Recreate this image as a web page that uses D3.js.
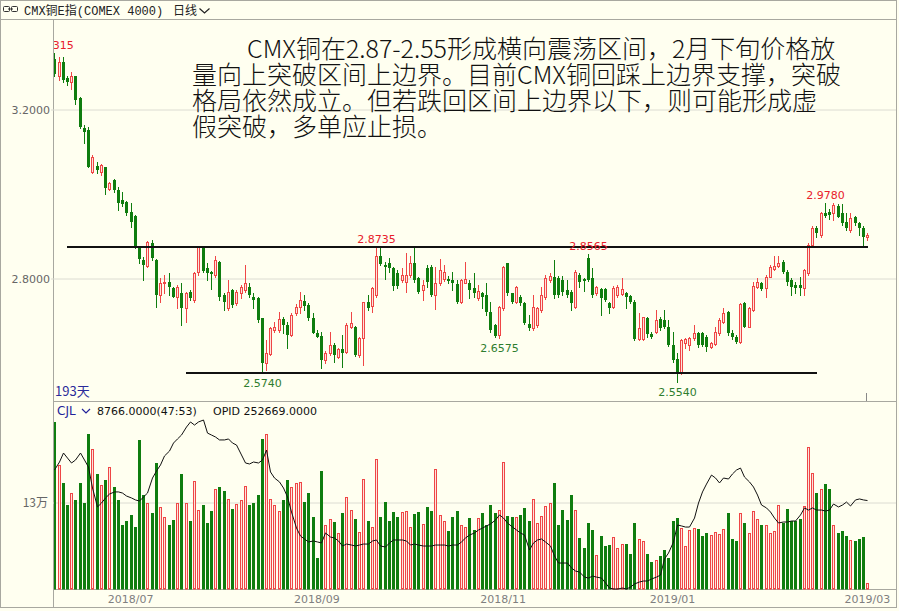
<!DOCTYPE html>
<html>
<head>
<meta charset="utf-8">
<script src="https://cdn.jsdelivr.net/npm/d3@7"></script>
<style>
  html, body { margin: 0; padding: 0; background: #fffff0; }
  svg { display: block; }
</style>
</head>
<body>
<svg id="chart" width="899" height="611"></svg>
<script>
// ---- daily bars, COMEX copper index (193 sessions) ----
const opens = [
  3.318,3.277,3.312,3.273,3.265,3.277,3.225,3.154,3.150,3.052,
  3.065,3.052,3.062,3.010,3.032,3.008,2.985,2.981,2.957,2.947,
  2.870,2.843,2.828,2.884,2.843,2.760,2.787,2.791,2.777,2.756,
  2.764,2.728,2.768,2.748,2.815,2.874,2.823,2.815,2.807,2.839,
  2.760,2.728,2.772,2.740,2.764,2.772,2.779,2.756,2.752,
  2.705,2.598,2.620,2.677,2.678,2.703,2.689,2.665,2.716,2.732,
  2.746,2.736,2.705,2.671,2.663,2.606,2.622,2.641,2.614,2.631,
  2.626,2.684,2.684,2.618,2.657,2.744,2.734,2.760,2.851,2.831,
  2.835,2.823,2.813,2.795,2.791,2.807,2.835,2.799,2.772,2.823,
  2.827,2.760,2.787,2.797,2.797,2.795,2.786,
  2.744,2.789,2.789,2.776,2.752,2.765,2.760,2.720,2.689,2.665,
  2.728,2.835,2.764,2.744,2.756,2.742,2.691,2.681,2.689,2.724,
  2.756,2.795,2.803,2.801,2.795,2.772,2.768,2.732,2.807,2.797,
  2.847,2.799,2.764,2.773,2.773,2.740,2.732,2.760,2.762,2.765,
  2.757,2.744,2.655,2.655,2.705,2.667,2.673,
  2.703,2.701,2.685,2.641,2.608,2.574,2.645,2.641,2.657,2.671,
  2.669,2.661,2.636,2.644,2.669,2.697,2.720,2.671,2.661,2.649,
  2.742,2.685,2.724,2.778,2.787,2.776,2.803,2.821,2.828,2.839,
  2.815,2.795,2.783,2.783,2.776,2.811,2.878,2.918,2.902,2.955,
  2.957,2.953,2.970,2.953,2.933,2.914,2.944,2.929,2.918,2.896
];
const highs = [
  3.3315,3.322,3.324,3.277,3.288,3.279,3.229,3.162,3.158,3.091,
  3.075,3.071,3.063,3.028,3.034,3.016,3.004,2.983,2.977,2.949,
  2.874,2.850,2.888,2.890,2.844,2.799,2.807,2.811,2.779,2.783,
  2.787,2.768,2.772,2.815,2.874,2.876,2.835,2.817,2.852,2.840,
  2.764,2.795,2.775,2.772,2.783,2.831,2.787,2.764,2.756,
  2.706,2.653,2.685,2.697,2.720,2.708,2.697,2.716,2.738,2.768,
  2.760,2.740,2.716,2.677,2.673,2.627,2.673,2.645,2.634,2.665,
  2.693,2.720,2.686,2.661,2.744,2.760,2.779,2.8735,2.870,2.839,
  2.847,2.827,2.819,2.823,2.858,2.851,2.870,2.803,2.795,2.831,
  2.831,2.827,2.844,2.830,2.805,2.815,2.795,
  2.797,2.839,2.795,2.811,2.783,2.768,2.789,2.744,2.691,2.734,
  2.828,2.836,2.765,2.781,2.760,2.744,2.712,2.760,2.732,2.779,
  2.807,2.813,2.843,2.805,2.805,2.795,2.772,2.819,2.811,2.799,
  2.8565,2.823,2.781,2.776,2.776,2.744,2.781,2.783,2.799,2.768,
  2.760,2.748,2.716,2.708,2.708,2.673,2.724,
  2.708,2.724,2.701,2.673,2.622,2.655,2.657,2.661,2.689,2.673,
  2.673,2.665,2.649,2.685,2.705,2.728,2.723,2.677,2.665,2.740,
  2.744,2.732,2.791,2.799,2.791,2.807,2.831,2.852,2.852,2.843,
  2.819,2.799,2.791,2.803,2.821,2.882,2.922,2.922,2.957,2.978,
  2.963,2.977,2.975,2.976,2.953,2.953,2.947,2.933,2.922,2.907
];
const lows = [
  3.277,3.269,3.265,3.257,3.247,3.213,3.154,3.119,3.062,3.048,
  3.048,3.044,3.000,3.008,3.004,2.961,2.970,2.949,2.921,2.870,
  2.835,2.795,2.827,2.843,2.732,2.744,2.764,2.760,2.754,2.728,
  2.689,2.697,2.748,2.744,2.807,2.815,2.795,2.775,2.803,2.748,
  2.724,2.724,2.732,2.736,2.752,2.768,2.756,2.728,2.697,
  2.574,2.582,2.618,2.673,2.673,2.669,2.634,2.663,2.712,2.716,
  2.724,2.701,2.669,2.660,2.586,2.598,2.618,2.602,2.610,2.590,
  2.622,2.681,2.615,2.614,2.594,2.724,2.720,2.756,2.831,2.797,
  2.815,2.772,2.776,2.791,2.768,2.803,2.791,2.765,2.748,2.779,
  2.757,2.726,2.783,2.793,2.789,2.772,2.740,
  2.742,2.787,2.752,2.756,2.748,2.728,2.712,2.673,2.661,2.6575,
  2.724,2.760,2.740,2.740,2.736,2.691,2.678,2.677,2.685,2.720,
  2.750,2.791,2.752,2.756,2.760,2.756,2.724,2.730,2.779,2.770,
  2.794,2.756,2.760,2.712,2.746,2.716,2.728,2.756,2.760,2.728,
  2.740,2.653,2.653,2.653,2.661,2.657,2.669,
  2.677,2.681,2.639,2.602,2.554,2.573,2.634,2.630,2.653,2.637,
  2.639,2.628,2.634,2.641,2.665,2.693,2.665,2.655,2.645,2.647,
  2.683,2.683,2.723,2.776,2.772,2.754,2.802,2.819,2.825,2.813,
  2.783,2.760,2.764,2.760,2.760,2.807,2.874,2.898,2.898,2.944,
  2.939,2.937,2.944,2.925,2.914,2.910,2.925,2.902,2.878,2.890
];
const closes = [
  3.284,3.312,3.269,3.265,3.277,3.221,3.158,3.146,3.063,3.087,
  3.056,3.067,3.012,3.026,3.008,2.977,2.975,2.955,2.933,2.874,
  2.844,2.831,2.886,2.847,2.760,2.787,2.791,2.779,2.756,2.779,
  2.728,2.764,2.752,2.811,2.874,2.817,2.811,2.809,2.843,2.756,
  2.744,2.768,2.736,2.768,2.779,2.787,2.760,2.748,2.701,
  2.598,2.622,2.681,2.685,2.702,2.689,2.665,2.712,2.732,2.748,
  2.734,2.705,2.669,2.661,2.606,2.623,2.641,2.618,2.631,2.622,
  2.689,2.693,2.618,2.657,2.744,2.728,2.776,2.851,2.833,2.827,
  2.823,2.781,2.781,2.807,2.807,2.835,2.795,2.768,2.783,2.791,
  2.760,2.789,2.820,2.815,2.794,2.787,2.744,
  2.795,2.797,2.772,2.764,2.770,2.756,2.720,2.677,2.663,2.732,
  2.827,2.764,2.744,2.778,2.740,2.693,2.681,2.732,2.728,2.760,
  2.799,2.805,2.760,2.760,2.768,2.760,2.740,2.815,2.791,2.794,
  2.795,2.760,2.778,2.752,2.748,2.728,2.776,2.778,2.773,2.756,
  2.744,2.655,2.681,2.707,2.667,2.661,2.701,
  2.681,2.685,2.641,2.606,2.574,2.653,2.655,2.657,2.669,2.641,
  2.641,2.637,2.647,2.673,2.701,2.716,2.669,2.660,2.649,2.738,
  2.685,2.728,2.781,2.791,2.773,2.803,2.825,2.828,2.836,2.815,
  2.791,2.778,2.776,2.776,2.819,2.878,2.918,2.906,2.953,2.947,
  2.949,2.973,2.945,2.929,2.918,2.941,2.929,2.918,2.898,2.902
];
// traded volume (CJL), in units of 10,000 lots
const volumes = [
  25.0,18.6,15.9,12.5,14.3,13.3,15.9,12.9,23.2,20.9,
  17.2,15.5,16.3,18.3,15.3,13.3,9.6,10.2,11.1,9.3,
  22.2,14.0,12.9,11.3,18.9,12.2,10.7,9.6,10.3,12.9,
  17.2,12.9,10.2,16.1,11.8,12.5,9.8,11.6,14.9,15.2,
  14.6,13.4,12.0,12.7,13.3,15.4,12.5,12.9,14.1,22.4,
  23.1,13.4,12.5,11.6,13.3,16.3,15.2,15.8,16.0,13.0,
  14.3,10.8,4.6,17.6,9.6,10.4,10.0,8.3,11.3,13.8,
  11.8,10.4,8.5,16.4,10.2,9.3,19.4,10.7,13.0,10.2,
  11.5,10.8,11.5,11.7,9.2,11.2,11.5,9.7,12.3,11.7,
  17.9,11.1,10.2,8.6,10.7,11.6,9.6,9.2,10.6,8.8,
  10.6,11.3,9.5,12.5,11.3,11.8,19.0,10.9,10.8,10.7,
  11.0,12.1,10.2,13.4,9.9,10.9,12.4,12.9,15.9,9.6,
  11.8,10.3,14.1,11.8,7.6,6.1,9.8,8.8,5.1,7.9,
  6.5,6.6,7.7,6.1,6.7,6.7,5.3,9.8,7.5,7.2,
  5.3,4.1,4.3,4.9,5.8,4.7,10.2,10.6,9.1,6.5,
  8.8,9.1,9.0,7.9,8.4,8.1,8.5,8.2,9.0,11.3,
  7.5,7.1,11.3,9.8,8.4,11.7,10.4,9.6,9.6,8.3,
  8.6,12.6,9.8,11.9,10.1,10.2,10.4,12.4,21.2,17.4,
  14.3,14.9,15.7,15.0,9.6,8.3,8.7,7.9,7.3,7.1,
  7.5,7.8,0.8766
];
// open interest (OPID), in thousands of lots
const openInterest = [
  274.4,280.1,286.5,282.9,279.4,281.5,286.5,281.5,276.5,261.6,
  248.1,250.9,254.5,257.3,258.8,258.8,258.0,255.9,254.5,253.1,
  252.3,255.2,258.0,268.7,273.7,278.0,284.4,287.9,293.6,296.5,
  299.3,305.0,308.6,306.4,308.6,310.0,300.7,299.3,297.9,295.8,
  295.8,296.5,293.6,292.2,285.1,279.4,278.7,280.1,279.4,281.5,
  288.6,273.0,268.7,265.9,261.6,255.2,244.5,233.1,227.4,225.3,
  223.2,223.9,223.2,222.5,229.6,226.7,226.0,223.9,220.3,221.7,
  221.0,220.3,221.0,221.7,221.7,223.9,224.6,220.3,219.6,222.5,
  224.6,224.6,224.6,223.9,221.0,221.7,221.0,220.3,220.3,220.3,
  221.0,221.0,221.0,220.3,221.0,221.0,223.2,226.0,228.1,229.6,
  231.7,233.1,234.6,236.0,238.8,242.4,240.2,236.7,233.8,231.7,
  229.6,228.1,217.5,222.5,224.6,225.3,223.2,220.3,213.2,208.2,
  208.2,208.2,204.7,202.5,201.8,198.2,197.5,198.9,198.2,197.5,
  194.0,190.4,189.7,189.7,190.4,189.7,191.1,193.3,194.7,195.4,
  195.4,196.8,198.2,199.6,211.1,215.3,223.2,235.3,234.6,233.8,
  233.8,240.2,250.9,258.8,264.4,270.8,268.7,265.2,268.7,268.0,
  271.6,274.4,275.8,269.4,265.9,262.3,256.6,249.5,247.4,244.5,
  240.2,236.7,237.4,237.4,238.1,238.1,242.4,247.4,245.9,247.4,
  245.9,245.9,245.2,245.9,250.2,248.1,249.5,251.6,248.8,253.1,
  253.8,253.1,252.669
];
// month labels and the session they sit on
const monthLabels = ['2018/07', '2018/09', '2018/11', '2019/01', '2019/03'];
const monthDays   = [18, 62, 106, 146, 192];
// price gridlines, volume gridline
const priceTicks = [2.8, 3.2];
const volumeTicks = [13];
// marked swing highs / lows (session index)
const swingHighDays = [0, 76, 126, 182];
const swingLowDays  = [49, 105, 147];
// drawn range boundaries: price level, first and last session
const levelPrices = [2.8735, 2.574];
const levelFrom   = [3, 31];
const levelTo     = [192, 180];
// commentary
const noteLines = [
  'CMX铜在2.87-2.55形成横向震荡区间，2月下旬价格放',
  '量向上突破区间上边界。目前CMX铜回踩上边界支撑，突破',
  '格局依然成立。但若跌回区间上边界以下，则可能形成虚',
  '假突破，多单应止损。'
];

// ---------------------------------------------------------------
const W = 899, H = 611;
const bg = '#fffff0';
const upColor = '#ef4646', upFill = '#fde4dc', downColor = '#0f7d0f';
const frameColor = '#a8a8a0', gridColor = '#dcdcd2';
const axisFont = 'DejaVu Sans, Verdana, sans-serif';
const cjkFont = '"Noto Sans CJK SC", "Noto Sans", sans-serif';
const plotL = 53, plotR = 896;
const priceTop = 20, priceBottom = 401;
const volTop = 402, volBottom = 589;

const svg = d3.select('#chart');
svg.append('rect').attr('width', W).attr('height', H).attr('fill', bg);

const n = opens.length;
const days = d3.range(n);
const bars = days.map(i => ({
  i, o: opens[i], h: highs[i], l: lows[i], c: closes[i],
  v: volumes[i], oi: openInterest[i], up: closes[i] >= opens[i]
}));

const x = d3.scaleBand().domain(days).range([52.2, 869.4]).paddingInner(0.3).paddingOuter(0.15);
const cx = i => Math.round(x(i) + x.bandwidth() / 2);
const yP = d3.scaleLinear().domain([2.8, 3.2]).range([278, 109]);
const yV = d3.scaleLinear().domain([0, 13]).range([volBottom, 502]);
const yO = d3.scaleLinear().domain([190, 310]).range([588.6, 420]);

const defs = svg.append('defs');
defs.append('clipPath').attr('id', 'clipPrice').append('rect')
  .attr('x', plotL + 1).attr('y', priceTop).attr('width', plotR - plotL - 1).attr('height', priceBottom - priceTop);
defs.append('clipPath').attr('id', 'clipVol').append('rect')
  .attr('x', plotL + 1).attr('y', volTop).attr('width', plotR - plotL - 1).attr('height', volBottom - volTop + 1);

// ---- header bar ----
const header = svg.append('g');
header.append('rect').attr('x', 3.5).attr('y', 6.5).attr('width', 6).attr('height', 5).attr('rx', 1)
  .attr('fill', 'none').attr('stroke', '#333');
header.append('rect').attr('x', 11.5).attr('y', 6.5).attr('width', 6).attr('height', 5).attr('rx', 1)
  .attr('fill', 'none').attr('stroke', '#333');
header.append('line').attr('x1', 8).attr('x2', 13).attr('y1', 9).attr('y2', 9).attr('stroke', '#333');
header.append('text').attr('x', 24).attr('y', 14.5)
  .attr('font-family', '"Liberation Mono", "Noto Sans CJK SC", monospace').attr('font-size', 12)
  .attr('fill', '#222').text('CMX铜E指(COMEX 4000)');
header.append('text').attr('x', 173).attr('y', 14.5)
  .attr('font-family', cjkFont).attr('font-size', 12).attr('fill', '#222').text('日线');
header.append('path').attr('d', 'M199.5,8.5 L204.5,13 L209.5,8.5').attr('fill', 'none').attr('stroke', '#222').attr('stroke-width', 1.2);

// ---- frame ----
const frame = svg.append('g').attr('stroke', frameColor).attr('fill', 'none');
frame.append('rect').attr('x', 0.5).attr('y', 0.5).attr('width', 896).attr('height', 607);
frame.append('line').attr('x1', 0).attr('x2', plotR + 1).attr('y1', 19.5).attr('y2', 19.5);
frame.append('line').attr('x1', plotL + 0.5).attr('x2', plotL + 0.5).attr('y1', 20).attr('y2', 607);
frame.append('line').attr('x1', plotL).attr('x2', plotR + 1).attr('y1', priceBottom + 0.5).attr('y2', priceBottom + 0.5);
frame.append('line').attr('x1', plotL).attr('x2', plotR + 1).attr('y1', volBottom + 0.5).attr('y2', volBottom + 0.5);

// ---- price axis with gridlines ----
const priceAxis = svg.append('g').attr('transform', `translate(${plotL},0.5)`)
  .call(d3.axisLeft(yP).tickValues(priceTicks).tickFormat(d3.format('.4f'))
    .tickSize(-(plotR - plotL)).tickPadding(3));
priceAxis.select('.domain').remove();
priceAxis.selectAll('.tick line').attr('stroke', gridColor).attr('x1', -2);
priceAxis.selectAll('.tick text').attr('font-family', axisFont).attr('font-size', 11).attr('fill', '#666');

// ---- volume axis ----
const volAxis = svg.append('g').attr('transform', `translate(${plotL},0.5)`)
  .call(d3.axisLeft(yV).tickValues(volumeTicks).tickFormat(d => d + '万')
    .tickSize(-(plotR - plotL)).tickPadding(5));
volAxis.select('.domain').remove();
volAxis.selectAll('.tick line').attr('stroke', gridColor);
volAxis.selectAll('.tick text').attr('font-family', cjkFont).attr('font-size', 12).attr('fill', '#666');

// ---- date axis ----
const dateAxis = svg.append('g').attr('transform', `translate(0,${volBottom + 1})`)
  .call(d3.axisBottom(x).tickValues(monthDays)
    .tickFormat(d => monthLabels[monthDays.indexOf(d)]).tickSize(0).tickPadding(5));
dateAxis.select('.domain').remove();
dateAxis.selectAll('.tick text').attr('font-family', axisFont).attr('font-size', 11).attr('fill', '#808080');

// ---- candles ----
const pricePlot = svg.append('g').attr('clip-path', 'url(#clipPrice)');
pricePlot.selectAll('line.wick').data(bars).join('line').attr('class', 'wick')
  .attr('x1', d => cx(d.i) + 0.5).attr('x2', d => cx(d.i) + 0.5)
  .attr('y1', d => Math.round(yP(d.h))).attr('y2', d => Math.round(yP(d.l)) + 1)
  .attr('stroke', d => d.up ? upColor : downColor);
pricePlot.selectAll('rect.body').data(bars).join('rect').attr('class', 'body')
  .each(function(d) {
    const top = Math.round(yP(Math.max(d.o, d.c)));
    const bot = Math.round(yP(Math.min(d.o, d.c)));
    const s = d3.select(this);
    if (d.up) {
      s.attr('x', cx(d.i) - 0.5).attr('width', 2)
       .attr('y', top + 0.5).attr('height', Math.max(bot - top, 1))
       .attr('fill', upFill).attr('stroke', upColor);
    } else {
      s.attr('x', cx(d.i) - 1).attr('width', 3)
       .attr('y', top).attr('height', Math.max(bot - top, 1))
       .attr('fill', downColor);
    }
  });

// ---- range boundaries ----
pricePlot.selectAll('line.level').data(levelPrices).join('line').attr('class', 'level')
  .attr('x1', (p, k) => cx(levelFrom[k])).attr('x2', (p, k) => cx(levelTo[k]) + 1)
  .attr('y1', p => Math.round(yP(p))).attr('y2', p => Math.round(yP(p)))
  .attr('stroke', '#111').attr('stroke-width', 2);

// ---- swing labels ----
const fmt4 = d3.format('.4f');
pricePlot.selectAll('text.hi').data(swingHighDays).join('text').attr('class', 'hi')
  .attr('x', i => cx(i) + 0.5).attr('y', i => yP(highs[i]) - 4)
  .attr('text-anchor', 'middle').attr('font-family', axisFont).attr('font-size', 11)
  .attr('fill', '#e8202a').text(i => fmt4(highs[i]));
pricePlot.selectAll('text.lo').data(swingLowDays).join('text').attr('class', 'lo')
  .attr('x', i => cx(i) + 0.5).attr('y', i => yP(lows[i]) + 14)
  .attr('text-anchor', 'middle').attr('font-family', axisFont).attr('font-size', 11)
  .attr('fill', '#2e7d2e').text(i => fmt4(lows[i]));

// session count and last-bar marker
svg.append('text').attr('x', 55).attr('y', 396).attr('font-family', cjkFont).attr('font-size', 13)
  .attr('fill', '#2a2a9a').text(`${n}天`);
svg.append('line').attr('x1', cx(n - 1) - 0.5).attr('x2', cx(n - 1) - 0.5)
  .attr('y1', 393).attr('y2', priceBottom).attr('stroke', '#888');

// ---- commentary ----
const noteX = [247, 192, 192, 192];
const noteY = [58, 84, 110, 136];
svg.append('g').selectAll('text').data(noteLines).join('text')
  .attr('x', (t, k) => noteX[k]).attr('y', (t, k) => noteY[k])
  .attr('font-family', cjkFont).attr('font-size', 25).attr('font-weight', 300)
  .attr('fill', '#111').text(t => t);

// ---- volume bars ----
const volPlot = svg.append('g').attr('clip-path', 'url(#clipVol)');
volPlot.selectAll('rect.vol').data(bars).join('rect').attr('class', 'vol')
  .each(function(d) {
    const top = Math.round(yV(d.v));
    const s = d3.select(this);
    if (d.up) {
      s.attr('x', cx(d.i) - 0.5).attr('width', 2)
       .attr('y', top + 0.5).attr('height', Math.max(volBottom - top - 0.5, 0.5))
       .attr('fill', upFill).attr('stroke', upColor);
    } else {
      s.attr('x', cx(d.i) - 1).attr('width', 3)
       .attr('y', top).attr('height', volBottom - top + 0.5)
       .attr('fill', downColor);
    }
  });

// ---- open interest line ----
volPlot.append('path').datum(bars)
  .attr('d', d3.line().x(d => cx(d.i) + 0.5).y(d => yO(d.oi)))
  .attr('fill', 'none').attr('stroke', '#111').attr('stroke-width', 1);

// ---- volume legend ----
const legend = svg.append('g').attr('font-family', axisFont).attr('font-size', 11);
legend.append('text').attr('x', 57).attr('y', 414.5).attr('fill', '#22229a').attr('font-size', 12).text('CJL');
legend.append('path').attr('d', 'M82,409 L86,413 L90,409').attr('fill', 'none').attr('stroke', '#22229a').attr('stroke-width', 1.2);
legend.append('text').attr('x', 97).attr('y', 414.5).attr('fill', '#111')
  .text(`${d3.format('.4f')(volumes[n - 1] * 10000)}(47:53)`);
legend.append('text').attr('x', 213).attr('y', 414.5).attr('fill', '#111')
  .text(`OPID ${d3.format('.4f')(openInterest[n - 1] * 1000)}`);
</script>
</body>
</html>
